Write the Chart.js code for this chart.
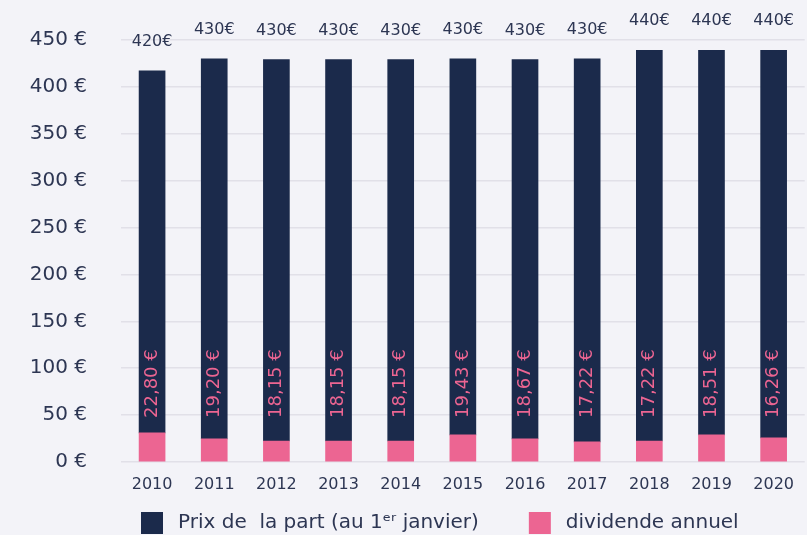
<!DOCTYPE html>
<html><head><meta charset="utf-8">
<script src="https://cdn.jsdelivr.net/npm/chart.js@4"></script>
<style>html,body{margin:0;padding:0;background:#f3f3f8;}#wrap{width:807px;height:535px;position:relative;}</style>
</head><body><div id="wrap"><canvas id="c"></canvas></div>
<script>
const years = ['2010','2011','2012','2013','2014','2015','2016','2017','2018','2019','2020'];
const priceLabels = ['420€','430€','430€','430€','430€','430€','430€','430€','440€','440€','440€'];
const priceTops = [417,430,429,429,429,430,429,430,439,439,439];
const dividendBars = [31,24.6,22.4,22.4,22.4,28.9,24.6,21.4,22.4,28.9,25.7];
const dividendLabels = ['22,80 €','19,20 €','18,15 €','18,15 €','18,15 €','19,43 €','18,67 €','17,22 €','17,22 €','18,51 €','16,26 €'];
const legendLabels = ['Prix de  la part (au 1ᵉʳ janvier)','dividende annuel'];
const yMax = 450, yStep = 50;

const navy = '#1b2a4b', pink = '#ec6592', textCol = '#2d3653', gridCol = '#e1e0e8';
const FONT = '"DejaVu Sans"';
const priceSegment = priceTops.map((t, i) => t - dividendBars[i]);

const labelsPlugin = {
  id: 'customLabels',
  afterDatasetsDraw(chart) {
    const ctx = chart.ctx;
    const dark = chart.getDatasetMeta(1);
    const y0 = chart.scales.y.getPixelForValue(0);
    ctx.save();
    ctx.font = '16px ' + FONT;
    ctx.fillStyle = textCol; ctx.textAlign = 'center'; ctx.textBaseline = 'middle';
    dark.data.forEach((bar, i) => ctx.fillText(priceLabels[i], bar.x, bar.y - 29));
    ctx.font = '18px ' + FONT;
    ctx.fillStyle = pink; ctx.textAlign = 'left';
    dark.data.forEach((bar, i) => {
      ctx.save(); ctx.translate(bar.x, y0 - 44); ctx.rotate(-Math.PI / 2);
      ctx.fillText(dividendLabels[i], 0, 0); ctx.restore();
    });
    // legend
    ctx.font = '20px ' + FONT;
    ctx.textAlign = 'left';
    const order = [1, 0];
    let x = 141;
    const boxTop = 512;
    order.forEach(di => {
      const ds = chart.data.datasets[di];
      ctx.fillStyle = ds.backgroundColor;
      ctx.fillRect(x, boxTop, 22, 22);
      ctx.fillStyle = textCol;
      ctx.fillText(ds.label, x + 37, boxTop + 11);
      x += 37 + ctx.measureText(ds.label).width + 50;
    });
    ctx.restore();
  }
};

new Chart(document.getElementById('c'), {
  type: 'bar',
  data: {
    labels: years,
    datasets: [
      { label: legendLabels[1], data: dividendBars, backgroundColor: pink, barThickness: 26, stack: 's' },
      { label: legendLabels[0], data: priceSegment, backgroundColor: navy, barThickness: 26, stack: 's' }
    ]
  },
  options: {
    responsive: true, maintainAspectRatio: false, animation: false, devicePixelRatio: 1,
    layout: { padding: { top: 40, left: 0, right: 0, bottom: 29 } },
    plugins: { legend: { display: false }, tooltip: { enabled: false } },
    scales: {
      x: {
        stacked: true,
        grid: { display: false, drawTicks: false },
        border: { display: false },
        ticks: { color: textCol, font: { family: FONT, size: 16 }, padding: 13 },
        afterFit(s) { s.height = 44; }
      },
      y: {
        stacked: true, min: 0, max: yMax,
        grid: { color: gridCol, lineWidth: 1.5, drawTicks: false },
        border: { display: false },
        ticks: { stepSize: yStep, color: textCol, font: { family: FONT, size: 20 }, padding: 34,
                 callback: v => v + ' €' },
        afterFit(s) { s.width = 121; s.paddingTop = 0; s.paddingBottom = 0; }
      }
    }
  },
  plugins: [labelsPlugin]
});
</script></body></html>
